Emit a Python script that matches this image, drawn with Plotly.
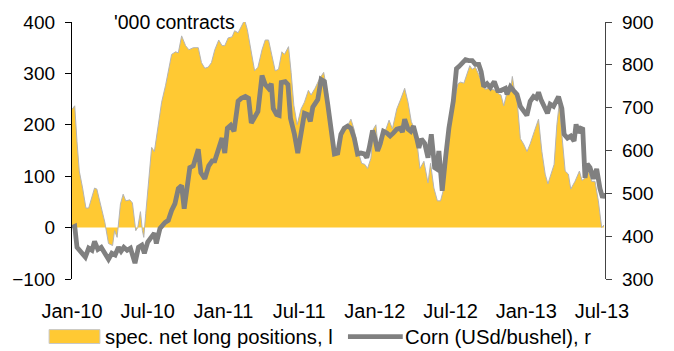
import plotly.graph_objects as go

# ---------------- data (time in decimal years) ----------------
spec_t = [2010.000, 2010.018, 2010.033, 2010.048, 2010.070, 2010.092, 2010.110, 2010.149, 2010.164, 2010.217,
          2010.241, 2010.268, 2010.281, 2010.298, 2010.320, 2010.338, 2010.355, 2010.382, 2010.399, 2010.421,
          2010.434, 2010.452, 2010.465, 2010.474, 2010.487, 2010.509, 2010.526, 2010.544, 2010.570, 2010.592,
          2010.618, 2010.640, 2010.658, 2010.684, 2010.702, 2010.724, 2010.750, 2010.772, 2010.801, 2010.834,
          2010.855, 2010.877, 2010.899, 2010.921, 2010.943, 2010.969, 2010.991, 2011.009, 2011.031, 2011.057,
          2011.074, 2011.097, 2011.118, 2011.140, 2011.158, 2011.180, 2011.206, 2011.228, 2011.255, 2011.276,
          2011.298, 2011.320, 2011.342, 2011.364, 2011.386, 2011.403, 2011.430, 2011.447, 2011.465, 2011.487,
          2011.513, 2011.535, 2011.561, 2011.579, 2011.605, 2011.634, 2011.662, 2011.689, 2011.711, 2011.733,
          2011.755, 2011.776, 2011.809, 2011.842, 2011.864, 2011.890, 2011.913, 2011.934, 2011.952, 2011.974,
          2011.991, 2012.007, 2012.022, 2012.039, 2012.061, 2012.094, 2012.116, 2012.145, 2012.171, 2012.197,
          2012.219, 2012.241, 2012.270, 2012.298, 2012.324, 2012.351, 2012.368, 2012.390, 2012.413, 2012.434,
          2012.456, 2012.478, 2012.500, 2012.522, 2012.549, 2012.566, 2012.588, 2012.610, 2012.627, 2012.643,
          2012.664, 2012.686, 2012.709, 2012.730, 2012.752, 2012.774, 2012.796, 2012.818, 2012.833, 2012.851,
          2012.873, 2012.895, 2012.908, 2012.921, 2012.939, 2012.961, 2012.982, 2013.005, 2013.026, 2013.053,
          2013.081, 2013.103, 2013.125, 2013.143, 2013.164, 2013.184, 2013.202, 2013.219, 2013.235, 2013.257,
          2013.278, 2013.294, 2013.322, 2013.351, 2013.368, 2013.388, 2013.410, 2013.432, 2013.454, 2013.476,
          2013.498, 2013.513]
spec_positions = [230, 237, 167, 110, 77, 38, 38, 77, 75, 10,
                  -31, -35, -6, -19, 46, 65, 52, 54, 48, -6,
                  0, 31, -6, -19, 27, 104, 156, 148, 206, 244,
                  277, 308, 337, 342, 340, 373, 354, 346, 350, 350,
                  321, 310, 312, 321, 346, 365, 354, 354, 369, 371,
                  383, 379, 392, 404, 385, 346, 305, 312, 346, 365,
                  365, 335, 305, 308, 342, 337, 352, 302, 238, 200,
                  231, 244, 267, 258, 271, 289, 302, 260, 200, 144,
                  144, 181, 192, 211, 190, 148, 125, 123, 115, 135,
                  192, 200, 154, 154, 181, 209, 192, 231, 250, 271,
                  244, 206, 187, 115, 129, 87, 125, 77, 52, 52,
                  77, 161, 200, 245, 280, 283, 281, 298, 315, 308,
                  312, 298, 279, 269, 271, 269, 267, 260, 258, 237,
                  263, 265, 294, 269, 250, 173, 163, 148, 163, 187,
                  211, 148, 104, 85, 104, 123, 200, 244, 181, 110,
                  104, 75, 90, 110, 92, 96, 110, 90, 90, 52,
                  0, 5]

corn_t = [2010.000, 2010.018, 2010.033, 2010.055, 2010.088, 2010.110, 2010.132, 2010.149, 2010.171, 2010.193,
          2010.215, 2010.241, 2010.263, 2010.285, 2010.307, 2010.324, 2010.342, 2010.364, 2010.386, 2010.399,
          2010.416, 2010.439, 2010.461, 2010.478, 2010.500, 2010.518, 2010.544, 2010.557, 2010.581, 2010.614,
          2010.636, 2010.658, 2010.680, 2010.702, 2010.724, 2010.741, 2010.763, 2010.778, 2010.801, 2010.834,
          2010.851, 2010.877, 2010.903, 2010.926, 2010.943, 2010.969, 2010.991, 2011.009, 2011.026, 2011.048,
          2011.070, 2011.097, 2011.118, 2011.145, 2011.166, 2011.184, 2011.217, 2011.228, 2011.255, 2011.276,
          2011.298, 2011.316, 2011.329, 2011.351, 2011.368, 2011.382, 2011.408, 2011.426, 2011.443, 2011.469,
          2011.491, 2011.513, 2011.535, 2011.557, 2011.574, 2011.590, 2011.623, 2011.645, 2011.667, 2011.689,
          2011.711, 2011.733, 2011.755, 2011.776, 2011.798, 2011.820, 2011.842, 2011.864, 2011.886, 2011.908,
          2011.930, 2011.947, 2011.963, 2011.985, 2012.000, 2012.018, 2012.035, 2012.057, 2012.079, 2012.101,
          2012.123, 2012.145, 2012.166, 2012.182, 2012.197, 2012.219, 2012.237, 2012.255, 2012.276, 2012.291,
          2012.307, 2012.329, 2012.351, 2012.373, 2012.395, 2012.408, 2012.423, 2012.445, 2012.467, 2012.489,
          2012.518, 2012.539, 2012.555, 2012.577, 2012.599, 2012.620, 2012.643, 2012.664, 2012.686, 2012.702,
          2012.719, 2012.741, 2012.763, 2012.789, 2012.811, 2012.833, 2012.862, 2012.873, 2012.895, 2012.916,
          2012.939, 2012.961, 2012.987, 2013.004, 2013.026, 2013.048, 2013.066, 2013.081, 2013.097, 2013.118,
          2013.140, 2013.158, 2013.180, 2013.197, 2013.213, 2013.235, 2013.250, 2013.272, 2013.294, 2013.316,
          2013.329, 2013.344, 2013.360, 2013.373, 2013.388, 2013.403, 2013.421, 2013.443, 2013.465, 2013.487,
          2013.504, 2013.520]
corn_price = [420, 423, 374, 365, 351, 372, 367, 388, 369, 374,
              363, 346, 360, 356, 374, 365, 374, 367, 372, 360,
              337, 374, 379, 360, 386, 395, 407, 383, 418, 432,
              437, 460, 476, 511, 518, 464, 525, 560, 564, 603,
              548, 534, 564, 576, 576, 606, 629, 594, 652, 659,
              645, 715, 722, 726, 722, 664, 687, 691, 775, 754,
              745, 756, 698, 684, 682, 759, 761, 754, 675, 638,
              594, 650, 687, 684, 668, 701, 719, 766, 761, 708,
              652, 592, 594, 638, 652, 657, 652, 629, 592, 594,
              592, 583, 606, 647, 629, 599, 615, 645, 641, 634,
              641, 650, 652, 643, 673, 650, 645, 657, 629, 606,
              627, 617, 583, 638, 560, 557, 599, 506, 583, 652,
              715, 791, 796, 803, 812, 810, 810, 801, 801, 784,
              749, 756, 747, 761, 740, 740, 745, 731, 749, 740,
              731, 703, 691, 682, 715, 726, 722, 736, 719, 701,
              687, 708, 703, 715, 726, 698, 638, 629, 634, 622,
              661, 641, 652, 650, 536, 569, 560, 534, 557, 511,
              490, 501]

tick_vals = [2010.0, 2010.5, 2011.0, 2011.5, 2012.0, 2012.5, 2013.0, 2013.5]
tick_labels = ["Jan-10", "Jul-10", "Jan-11", "Jul-11", "Jan-12", "Jul-12", "Jan-13", "Jul-13"]

spec_name = "spec. net long positions, l"
corn_name = "Corn (USd/bushel), r"
unit_note = "'000 contracts"

# ---------------- styling ----------------
W, H = 674, 351
ML, MR, MT, MB = 70, 69, 20, 72
PW, PH = W - ML - MR, H - MT - MB
FONT = "Liberation Sans, Arial, sans-serif"
YELLOW = "#FFC933"
GREY = "#808080"
X_RANGE = [2010.0, 2013.52]


def px(xp):
    return (xp - ML) / PW


def py(yp):
    return (H - MB - yp) / PH


fig = go.Figure()
fig.add_trace(go.Scatter(
    x=spec_t, y=spec_positions, name=spec_name, mode="lines",
    fill="tozeroy", fillcolor=YELLOW,
    line=dict(color="#B4B4B4", width=1),
    xaxis="x", yaxis="y", showlegend=False,
))
fig.add_trace(go.Scatter(
    x=corn_t, y=corn_price, name=corn_name, mode="lines",
    line=dict(color=GREY, width=4.8),
    xaxis="x", yaxis="y2", showlegend=False,
))

fig.update_layout(
    width=W, height=H,
    margin=dict(l=ML, r=MR, t=MT, b=MB, pad=0),
    paper_bgcolor="white", plot_bgcolor="white",
    font=dict(family=FONT, size=19, color="black"),
    showlegend=False,
    xaxis=dict(
        range=X_RANGE, tickvals=tick_vals, ticktext=tick_labels,
        showgrid=False, zeroline=False, showline=False, ticks="",
        tickfont=dict(size=20), ticklabelstandoff=18,
    ),
    xaxis2=dict(
        range=X_RANGE, tickvals=tick_vals, overlaying="x",
        anchor="free", position=0.2,
        showgrid=False, zeroline=False, showline=True, linecolor="black", linewidth=1.3,
        ticks="outside", ticklen=6, tickcolor="black", showticklabels=False,
    ),
    yaxis=dict(
        range=[-100, 400], dtick=100, showgrid=False, zeroline=False,
        showline=True, linecolor="black", linewidth=1.3,
        ticks="outside", ticklen=6, tickcolor="black",
        ticklabelstandoff=6,
    ),
    yaxis2=dict(
        range=[300, 900], dtick=100, overlaying="y", side="right",
        showgrid=False, zeroline=False, showline=True, linecolor="#444444", linewidth=1.3,
        ticks="outside", ticklen=6, tickcolor="#444444",
        ticklabelstandoff=6,
    ),
    yaxis3=dict(
        range=[300, 900], dtick=100, overlaying="y", side="right", anchor="x",
        showgrid=False, zeroline=False, showline=False,
        ticks="inside", ticklen=6, tickcolor="#444444", showticklabels=False,
    ),
)

# unit note
fig.add_annotation(text=unit_note, xref="paper", yref="paper", x=px(110), y=py(19.5),
                   xanchor="left", yanchor="middle", showarrow=False, font=dict(size=19.5))

# manual legend
fig.add_shape(type="rect", xref="paper", yref="paper",
              x0=px(47), x1=px(98), y0=py(344), y1=py(330),
              fillcolor=YELLOW, line=dict(color="#C8C8C8", width=1))
fig.add_annotation(text=spec_name, xref="paper", yref="paper", x=px(101), y=py(337),
                   xanchor="left", yanchor="middle", showarrow=False, font=dict(size=20.3))
fig.add_shape(type="line", xref="paper", yref="paper",
              x0=px(347), x1=px(402), y0=py(337), y1=py(337),
              line=dict(color=GREY, width=4.8))
fig.add_annotation(text=corn_name, xref="paper", yref="paper", x=px(402), y=py(337),
                   xanchor="left", yanchor="middle", showarrow=False, font=dict(size=20.3))

fig.write_html("out.html")
